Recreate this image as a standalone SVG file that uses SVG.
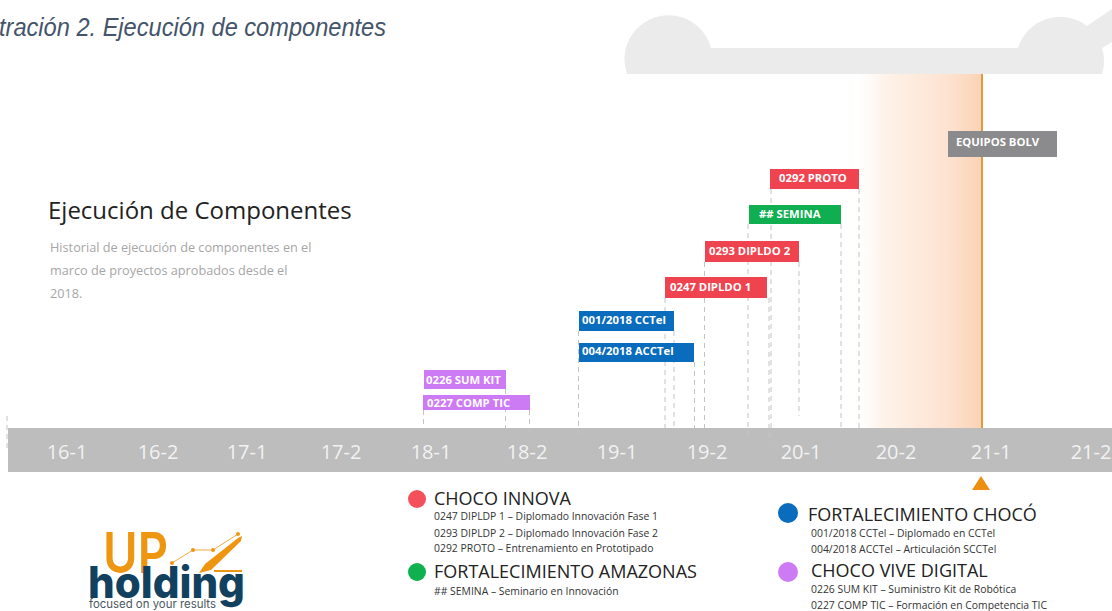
<svg xmlns="http://www.w3.org/2000/svg" width="1112" height="611" viewBox="0 0 1112 611">
<style>
.os{font-family:"Open Sans","Noto Sans",sans-serif}
.bar{font-family:"Open Sans","Noto Sans",sans-serif;font-weight:700;font-size:11.300px;fill:#fff}
.tick{font-family:"Open Sans","Noto Sans",sans-serif;font-size:20px;fill:#f2f2f2;text-anchor:middle}
.h{font-family:"Open Sans","Noto Sans",sans-serif;font-size:18px;fill:#222}
.s{font-family:"Open Sans","Noto Sans",sans-serif;font-size:10.400px;fill:#333}
.body{font-family:"Open Sans","Noto Sans",sans-serif;font-size:12.700px;fill:#a6a6a6}
.d{stroke:#c4c4c4;stroke-width:1;stroke-dasharray:5 4;fill:none}
.logoO{font-family:Inter,Lato,sans-serif;font-weight:600;font-size:56px;fill:#ee9611}
</style>
<defs>
<linearGradient id="fade" x1="0" x2="1" y1="0" y2="0">
<stop offset="0" stop-color="#ffffff" stop-opacity="0"/>
<stop offset="0.25" stop-color="#fef3ea"/>
<stop offset="0.75" stop-color="#fde2d0"/>
<stop offset="1" stop-color="#fbd3b6"/>
</linearGradient>
</defs>
<rect width="1112" height="611" fill="#fff"/>
<text id="caption" x="-1" y="36" font-family="Liberation Sans,Arial,sans-serif" font-style="italic" font-size="26" fill="#44546a" textLength="387" lengthAdjust="spacingAndGlyphs">tración 2. Ejecución de componentes</text>
<g id="cloud"><path d="M627 74A44 44 0 1 1 711 48H1018A44 44 0 0 1 1087 26L1112 9V42L1102 48A44 44 0 0 1 1102 74Z" fill="#ebebeb"/></g>
<rect x="850" y="74" width="131" height="354" fill="url(#fade)"/>
<g id="intro">
<text x="48" y="219" class="os" font-size="24" font-weight="500" fill="#222">Ejecución de Componentes</text>
<text x="50" y="252" class="body">Historial de ejecución de componentes en el</text>
<text x="50" y="275" class="body">marco de proyectos aprobados desde el</text>
<text x="50" y="298" class="body">2018.</text>
</g>
<path id="today-line" d="M982 74V428" stroke="#e09a3a" stroke-width="2" fill="none"/>
<g id="timeline">
<rect x="8" y="428" width="1104" height="44" fill="#bdbdbd"/>
<text class="tick" x="67" y="459">16-1</text>
<text class="tick" x="158" y="459">16-2</text>
<text class="tick" x="247" y="459">17-1</text>
<text class="tick" x="341" y="459">17-2</text>
<text class="tick" x="431" y="459">18-1</text>
<text class="tick" x="527" y="459">18-2</text>
<text class="tick" x="617" y="459">19-1</text>
<text class="tick" x="707" y="459">19-2</text>
<text class="tick" x="801" y="459">20-1</text>
<text class="tick" x="896" y="459">20-2</text>
<text class="tick" x="991" y="459">21-1</text>
<text class="tick" x="1091" y="459">21-2</text>
</g>
<g id="connectors">
<path class="d" d="M7 416V450M423.500 410V428M505.500 389V428M529.500 410V432M578.500 331V434M665 298V428M674 331V428M694.500 362V428M704.500 262V428M748 224V437M769 298V442M771 189V442M799 262V416M841 224V428M859 189V428"/>
</g>
<path id="today-marker" d="M981 476L990 490H972Z" fill="#ee8f11"/>
<g id="n-equipos"><rect x="948" y="131" width="109" height="26" fill="#8b8a8c"/><text class="bar" x="956" y="146">EQUIPOS BOLV</text></g>
<g id="n-0292"><rect x="770" y="169" width="89" height="20" fill="#ef4350"/><text class="bar" x="779" y="182">0292 PROTO</text></g>
<g id="n-semina"><rect x="749" y="205" width="92" height="19" fill="#0fae50"/><text class="bar" x="759" y="218">## SEMINA</text></g>
<g id="n-0293"><rect x="705" y="241" width="94" height="21" fill="#ef4350"/><text class="bar" x="709" y="255">0293 DIPLDO 2</text></g>
<g id="n-0247"><rect x="665" y="277" width="102" height="21" fill="#ef4350"/><text class="bar" x="670" y="291">0247 DIPLDO 1</text></g>
<g id="n-001"><rect x="579" y="311" width="95" height="20" fill="#0a6cbd"/><text class="bar" x="582" y="324">001/2018 CCTel</text></g>
<g id="n-004"><rect x="579" y="343" width="115" height="19" fill="#0a6cbd"/><text class="bar" x="582" y="355">004/2018 ACCTel</text></g>
<g id="n-0226"><rect x="424" y="370" width="82" height="19" fill="#cd7af5"/><text class="bar" x="426" y="384">0226 SUM KIT</text></g>
<g id="n-0227"><rect x="423" y="395" width="107" height="15" fill="#cd7af5"/><text class="bar" x="427" y="407">0227 COMP TIC</text></g>
<g id="legend-innova"><circle cx="417" cy="499" r="9" fill="#f4505c"/>
<text class="h" x="434" y="505">CHOCO INNOVA</text>
<text class="s" x="434" y="520">0247 DIPLDP 1 – Diplomado Innovación Fase 1</text>
<text class="s" x="434" y="537">0293 DIPLDP 2 – Diplomado Innovación Fase 2</text>
<text class="s" x="434" y="552">0292 PROTO – Entrenamiento en Prototipado</text></g>
<g id="legend-amazonas"><circle cx="417" cy="572" r="9" fill="#0fb04f"/>
<text class="h" x="434" y="578">FORTALECIMIENTO AMAZONAS</text>
<text class="s" x="434" y="595">## SEMINA – Seminario en Innovación</text></g>
<g id="legend-choco"><circle cx="788" cy="513" r="10" fill="#0a6cbd"/>
<text class="h" x="808" y="521">FORTALECIMIENTO CHOCÓ</text>
<text class="s" x="811" y="537">001/2018 CCTel – Diplomado en CCTel</text>
<text class="s" x="811" y="553">004/2018 ACCTel – Articulación SCCTel</text></g>
<g id="legend-vive"><circle cx="788" cy="572" r="10" fill="#cd7af5"/>
<text class="h" x="811" y="577">CHOCO VIVE DIGITAL</text>
<text class="s" x="811" y="593">0226 SUM KIT – Suministro Kit de Robótica</text>
<text class="s" x="811" y="609">0227 COMP TIC – Formación en Competencia TIC</text></g>
<g id="logo">
<text class="logoO" y="573" x="103" textLength="65" lengthAdjust="spacingAndGlyphs">UP</text>
<text x="88" y="598" font-family="Inter,Lato,sans-serif" font-weight="800" font-size="44" fill="#12415f" textLength="157" lengthAdjust="spacingAndGlyphs">holding</text>
<text x="89" y="608" font-family="Inter,Lato,sans-serif" font-size="11.500" fill="#4a5660" textLength="127" lengthAdjust="spacingAndGlyphs">focused on your results</text>
<path d="M172 563L193 550L213 550L238 534" fill="none" stroke="#ee9611" stroke-width="0.800"/>
<circle cx="172" cy="563" r="2" fill="#ee9611"/><circle cx="193" cy="550" r="2" fill="#ee9611"/><circle cx="213" cy="550" r="2" fill="#ee9611"/><circle cx="238" cy="534" r="2" fill="#ee9611"/>
<path d="M199 573L205 564L238 538L242 536L241 541L211 570Z" fill="#ee9611"/>
<path d="M214 571H242" stroke="#ee9611" stroke-width="2"/>
</g>
</svg>
